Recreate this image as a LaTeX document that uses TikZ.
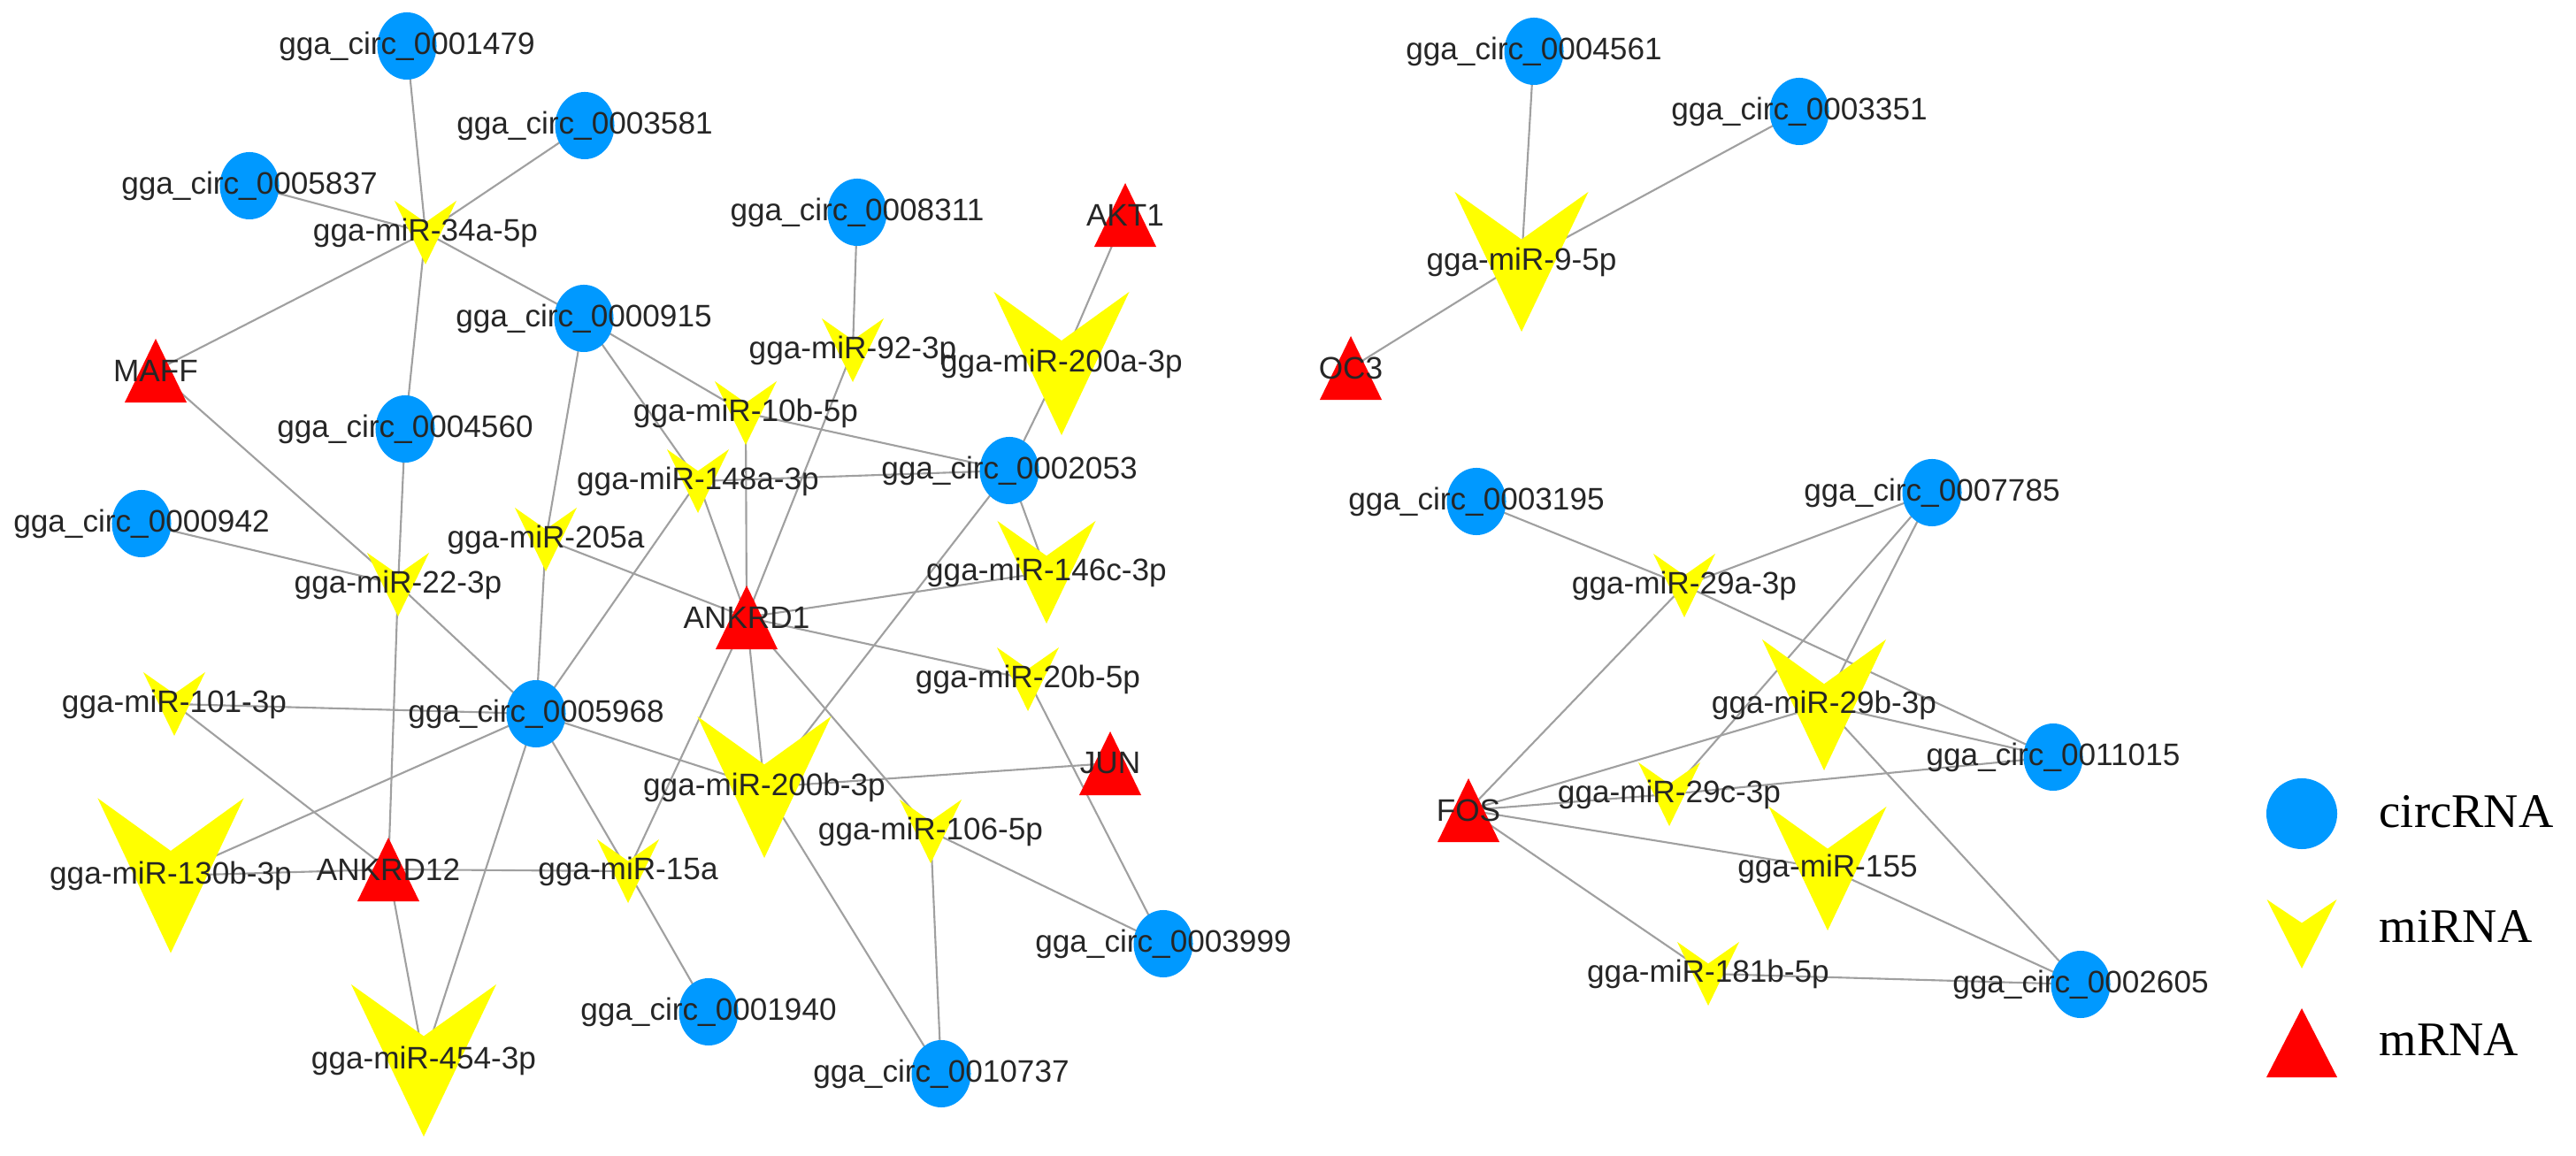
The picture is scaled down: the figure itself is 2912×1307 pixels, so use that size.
\documentclass[tikz,border=0pt]{standalone}
\usepackage{fontspec}
\usetikzlibrary{shapes.geometric,calc,backgrounds}
\newfontfamily\labelfont{Liberation Sans}
\newfontfamily\legendfont{Liberation Serif}
\definecolor{circblue}{RGB}{0,153,255}
\definecolor{mirnayellow}{RGB}{255,255,0}
\definecolor{mrnared}{RGB}{255,0,0}
\definecolor{edgegray}{RGB}{160,160,160}

\begin{document}
\begin{tikzpicture}[x=0.01cm, y=-0.01cm,
	circ/.style={ellipse, fill=circblue, minimum width=0.67cm, minimum height=0.76cm, inner sep=0pt},
	vsize/.style 2 args={minimum width=#1cm, minimum height=#2cm},
	mirna/.style={rectangle, inner sep=0pt, vsize={0.7}{0.72}, path picture={
		\fill[mirnayellow] (path picture bounding box.north west)
			-- ($(path picture bounding box.north)!0.34!(path picture bounding box.south)$)
			-- (path picture bounding box.north east) -- (path picture bounding box.south) -- cycle;}},
	mrna/.style={rectangle, inner sep=0pt, vsize={0.7}{0.72}, path picture={
		\fill[mrnared] (path picture bounding box.south west) -- (path picture bounding box.north)
			-- (path picture bounding box.south east) -- cycle;}},
	lbl/.style={font=\labelfont\fontsize{10}{12}\selectfont, text=black!85, inner sep=0pt},
	legend/.style={font=\legendfont\fontsize{15.5}{18}\selectfont, anchor=west, inner sep=0pt},
	edge/.style={draw=edgegray, line width=0.6pt}]
				\useasboundingbox (0,0) rectangle (2912,1307);
				\node[circ, label={[lbl]center:gga\_circ\_0001479}] (c1479) at (460,52) {};
				\node[circ, label={[lbl]center:gga\_circ\_0003581}] (c3581) at (661,142) {};
				\node[circ, label={[lbl]center:gga\_circ\_0005837}] (c5837) at (282,210) {};
				\node[circ, label={[lbl]center:gga\_circ\_0000915}] (c0915) at (660,360) {};
				\node[circ, label={[lbl]center:gga\_circ\_0004560}] (c4560) at (458,485) {};
				\node[circ, label={[lbl]center:gga\_circ\_0000942}] (c0942) at (160,592) {};
				\node[circ, label={[lbl]center:gga\_circ\_0008311}] (c8311) at (969,240) {};
				\node[circ, label={[lbl]center:gga\_circ\_0002053}] (c2053) at (1141,532) {};
				\node[circ, label={[lbl]center:gga\_circ\_0005968}] (c5968) at (606,807) {};
				\node[circ, label={[lbl]center:gga\_circ\_0003999}] (c3999) at (1315,1067) {};
				\node[circ, label={[lbl]center:gga\_circ\_0001940}] (c1940) at (801,1144) {};
				\node[circ, label={[lbl]center:gga\_circ\_0010737}] (c10737) at (1064,1214) {};
				\node[circ, label={[lbl]center:gga\_circ\_0004561}] (c4561) at (1734,58) {};
				\node[circ, label={[lbl]center:gga\_circ\_0003351}] (c3351) at (2034,126) {};
				\node[circ, label={[lbl]center:gga\_circ\_0003195}] (c3195) at (1669,567) {};
				\node[circ, label={[lbl]center:gga\_circ\_0007785}] (c7785) at (2184,557) {};
				\node[circ, label={[lbl]center:gga\_circ\_0011015}] (c11015) at (2321,856) {};
				\node[circ, label={[lbl]center:gga\_circ\_0002605}] (c2605) at (2352,1113) {};

				\node[mirna, label={[lbl]center:gga-miR-34a-5p}] (m34a) at (481,263) {};
				\node[mirna, label={[lbl]center:gga-miR-92-3p}] (m92) at (964,396) {};
				\node[mirna, vsize={1.53}{1.62}, label={[lbl]center:gga-miR-200a-3p}] (m200a) at (1200,411) {};
				\node[mirna, label={[lbl]center:gga-miR-10b-5p}] (m10b) at (843,467) {};
				\node[mirna, label={[lbl]center:gga-miR-148a-3p}] (m148a) at (789,544) {};
				\node[mirna, vsize={1.11}{1.16}, label={[lbl]center:gga-miR-146c-3p}] (m146c) at (1183,647) {};
				\node[mirna, label={[lbl]center:gga-miR-205a}] (m205a) at (617,610) {};
				\node[mirna, label={[lbl]center:gga-miR-22-3p}] (m22) at (450,661) {};
				\node[mirna, label={[lbl]center:gga-miR-20b-5p}] (m20b) at (1162,768) {};
				\node[mirna, label={[lbl]center:gga-miR-101-3p}] (m101) at (197,796) {};
				\node[mirna, vsize={1.51}{1.60}, label={[lbl]center:gga-miR-200b-3p}] (m200b) at (864,890) {};
				\node[mirna, label={[lbl]center:gga-miR-106-5p}] (m106) at (1052,940) {};
				\node[mirna, vsize={1.65}{1.75}, label={[lbl]center:gga-miR-130b-3p}] (m130b) at (193,990) {};
				\node[mirna, label={[lbl]center:gga-miR-15a}] (m15a) at (710,985) {};
				\node[mirna, vsize={1.64}{1.72}, label={[lbl]center:gga-miR-454-3p}] (m454) at (479,1199) {};
				\node[mirna, vsize={1.51}{1.58}, label={[lbl]center:gga-miR-9-5p}] (m9) at (1720,296) {};
				\node[mirna, label={[lbl]center:gga-miR-29a-3p}] (m29a) at (1904,662) {};
				\node[mirna, vsize={1.40}{1.48}, label={[lbl]center:gga-miR-29b-3p}] (m29b) at (2062,797) {};
				\node[mirna, label={[lbl]center:gga-miR-29c-3p}] (m29c) at (1887,898) {};
				\node[mirna, vsize={1.33}{1.40}, label={[lbl]center:gga-miR-155}] (m155) at (2066,982) {};
				\node[mirna, label={[lbl]center:gga-miR-181b-5p}] (m181b) at (1931,1101) {};

				\node[mrna, label={[lbl]center:MAFF}] (maff) at (176,419) {};
				\node[mrna, label={[lbl]center:AKT1}] (akt1) at (1272,243) {};
				\node[mrna, label={[lbl]center:ANKRD1}] (ankrd1) at (844,698) {};
				\node[mrna, label={[lbl]center:JUN}] (jun) at (1255,863) {};
				\node[mrna, label={[lbl]center:ANKRD12}] (ankrd12) at (439,983) {};
				\node[mrna, label={[lbl]center:OC3}] (oc3) at (1527,416) {};
				\node[mrna, label={[lbl]center:FOS}] (fos) at (1660,916) {};

				\node[circ, minimum width=0.8cm, minimum height=0.8cm] (legcirc) at (2602,920) {};
				\node[legend] (legcirctext) at (2689,918) {circRNA};
				\node[mirna, vsize={0.79}{0.78}] (legmirna) at (2602,1056) {};
				\node[legend] (legmirnatext) at (2689,1047) {miRNA};
				\node[mrna, vsize={0.8}{0.78}] (legmrna) at (2602,1179) {};
				\node[legend] (legmrnatext) at (2689,1176) {mRNA};

				\begin{scope}[on background layer]
				\fill[white] (0,0) rectangle (2912,1307);
				\draw[edge] (c1479.center) -- (m34a.center);
				\draw[edge] (c3581.center) -- (m34a.center);
				\draw[edge] (c5837.center) -- (m34a.center);
				\draw[edge] (m34a.center) -- (maff.center);
				\draw[edge] (m34a.center) -- (c0915.center);
				\draw[edge] (m34a.center) -- (c4560.center);
				\draw[edge] (c4560.center) -- (m22.center);
				\draw[edge] (maff.center) -- (m22.center);
				\draw[edge] (c0942.center) -- (m22.center);
				\draw[edge] (m22.center) -- (c5968.center);
				\draw[edge] (m22.center) -- (ankrd12.center);
				\draw[edge] (c0915.center) -- (m205a.center);
				\draw[edge] (c0915.center) -- (m148a.center);
				\draw[edge] (c0915.center) -- (m10b.center);
				\draw[edge] (m205a.center) -- (c5968.center);
				\draw[edge] (m205a.center) -- (ankrd1.center);
				\draw[edge] (m10b.center) -- (c2053.center);
				\draw[edge] (m10b.center) -- (ankrd1.center);
				\draw[edge] (m148a.center) -- (c2053.center);
				\draw[edge] (m148a.center) -- (ankrd1.center);
				\draw[edge] (m148a.center) -- (c5968.center);
				\draw[edge] (c8311.center) -- (m92.center);
				\draw[edge] (m92.center) -- (ankrd1.center);
				\draw[edge] (akt1.center) -- (m200a.center);
				\draw[edge] (m200a.center) -- (c2053.center);
				\draw[edge] (c2053.center) -- (m146c.center);
				\draw[edge] (c2053.center) -- (m200b.center);
				\draw[edge] (m146c.center) -- (ankrd1.center);
				\draw[edge] (ankrd1.center) -- (m20b.center);
				\draw[edge] (m20b.center) -- (c3999.center);
				\draw[edge] (jun.center) -- (m200b.center);
				\draw[edge] (c5968.center) -- (m200b.center);
				\draw[edge] (ankrd1.center) -- (m200b.center);
				\draw[edge] (ankrd1.center) -- (m15a.center);
				\draw[edge] (ankrd1.center) -- (m106.center);
				\draw[edge] (m106.center) -- (c3999.center);
				\draw[edge] (m106.center) -- (c10737.center);
				\draw[edge] (m200b.center) -- (c10737.center);
				\draw[edge] (c5968.center) -- (m101.center);
				\draw[edge] (c5968.center) -- (m130b.center);
				\draw[edge] (c5968.center) -- (m454.center);
				\draw[edge] (c5968.center) -- (m15a.center);
				\draw[edge] (m101.center) -- (ankrd12.center);
				\draw[edge] (m130b.center) -- (ankrd12.center);
				\draw[edge] (ankrd12.center) -- (m15a.center);
				\draw[edge] (ankrd12.center) -- (m454.center);
				\draw[edge] (m15a.center) -- (c1940.center);
				\draw[edge] (c4561.center) -- (m9.center);
				\draw[edge] (c3351.center) -- (m9.center);
				\draw[edge] (m9.center) -- (oc3.center);
				\draw[edge] (c3195.center) -- (m29a.center);
				\draw[edge] (m29a.center) -- (c7785.center);
				\draw[edge] (m29a.center) -- (fos.center);
				\draw[edge] (m29a.center) -- (c11015.center);
				\draw[edge] (c7785.center) -- (m29c.center);
				\draw[edge] (c7785.center) -- (m29b.center);
				\draw[edge] (m29b.center) -- (c11015.center);
				\draw[edge] (m29b.center) -- (fos.center);
				\draw[edge] (m29b.center) -- (c2605.center);
				\draw[edge] (m29c.center) -- (c11015.center);
				\draw[edge] (fos.center) -- (m29c.center);
				\draw[edge] (fos.center) -- (m155.center);
				\draw[edge] (fos.center) -- (m181b.center);
				\draw[edge] (m155.center) -- (c2605.center);
				\draw[edge] (m181b.center) -- (c2605.center);
				\end{scope}
			\end{tikzpicture}
\end{document}
